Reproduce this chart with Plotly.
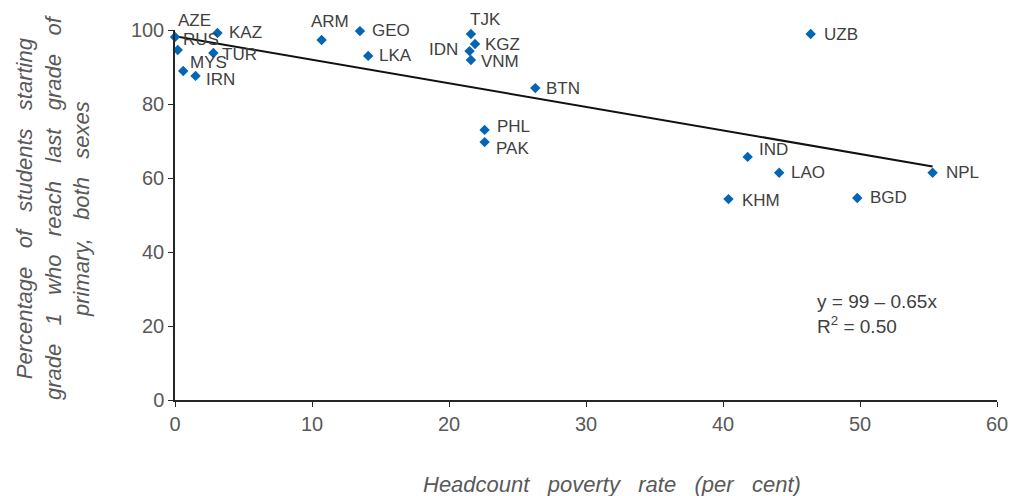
import plotly.graph_objects as go

countries = ["AZE", "RUS", "KAZ", "TUR", "MYS", "IRN", "ARM", "GEO", "LKA", "TJK", "KGZ",
             "IDN", "VNM", "BTN", "PHL", "PAK", "IND", "LAO", "NPL", "KHM", "BGD", "UZB"]
poverty = [0.0, 0.2, 3.1, 2.8, 0.6, 1.5, 10.7, 13.5, 14.1, 21.6, 21.9,
           21.5, 21.6, 26.3, 22.6, 22.6, 41.8, 44.1, 55.3, 40.4, 49.8, 46.4]
reach = [98.1, 94.6, 99.2, 93.8, 88.9, 87.6, 97.3, 99.7, 93.0, 98.9, 96.2,
         94.3, 91.9, 84.3, 73.0, 69.7, 65.7, 61.4, 61.4, 54.3, 54.6, 98.9]

# label placement (style): anchor, x shift, y shift in px
lab_anchor = ["left", "left", "left", "left", "left", "left", "center", "left", "left", "left", "left",
              "right", "left", "left", "left", "left", "left", "left", "left", "left", "left", "left"]
lab_dx = [1, 3, 10, 7, 5, 8, 8, 10, 9, -3, 8, -10, 8, 9, 10, 9, 9, 10, 11, 12, 11, 11]
lab_dy = [17, 10, 0, -2, 9, -4, 18, 1, 0, 15, 0, 2, -2, 0, 3, -6, 7, 0, 0, -1, 0, 0]

# trend line (shown as y = 99 - 0.65x)
trend_intercept = 98.3
trend_slope = -0.636
eq_text = "y = 99 \u2013 0.65x<br>R<sup>2</sup> = 0.50"

x_ticks = [0, 10, 20, 30, 40, 50, 60]
y_ticks = [0, 20, 40, 60, 80, 100]

x_title = "Headcount poverty rate (per cent)"
y_title_lines = ["Percentage of students starting", "grade 1 who reach last grade of", "primary, both sexes"]

grey = "#595959"
dark = "#404040"
blue = "#0565B5"
font_family = "Liberation Sans, Arial"
wide = "\u00a0\u00a0\u00a0"

fig = go.Figure()

x_end = max(poverty)
fig.add_trace(go.Scatter(
    x=[0, x_end],
    y=[trend_intercept, trend_intercept + trend_slope * x_end],
    mode="lines", line=dict(color="#111111", width=2), hoverinfo="skip", showlegend=False))

fig.add_trace(go.Scatter(
    x=poverty, y=reach, mode="markers", text=countries,
    marker=dict(symbol="diamond", size=8, color=blue),
    showlegend=False, cliponaxis=False))

for c, px, py, a, dx, dy in zip(countries, poverty, reach, lab_anchor, lab_dx, lab_dy):
    fig.add_annotation(x=px, y=py, text=c, showarrow=False, xanchor=a, yanchor="middle",
                       xshift=dx, yshift=dy, font=dict(family=font_family, size=17, color=dark))

fig.add_annotation(x=46.7, y=23.3, xref="x", yref="y", text=eq_text, showarrow=False,
                   xanchor="left", yanchor="middle", align="left",
                   font=dict(family=font_family, size=19, color=dark))

fig.add_annotation(x=0, y=0.5, xref="paper", yref="paper", xshift=-122, yshift=8, textangle=-90,
                   text="<i>" + "<br>".join(l.replace(" ", wide) for l in y_title_lines) + "</i>",
                   showarrow=False, xanchor="center", yanchor="middle", align="center",
                   font=dict(family=font_family, size=22, color=grey))

fig.add_annotation(x=0, y=0, xref="paper", yref="paper", xshift=437, yshift=-70,
                   text="<i>" + x_title.replace(" ", wide) + "</i>",
                   showarrow=False, xanchor="center", yanchor="top",
                   font=dict(family=font_family, size=22, color=grey))

fig.update_xaxes(range=[0, 60], tickvals=x_ticks, showgrid=False, zeroline=False,
                 showline=True, linecolor="#262626", linewidth=1.5,
                 ticks="outside", ticklen=5, tickcolor="#262626",
                 tickfont=dict(family=font_family, size=20, color=grey))
fig.update_yaxes(range=[0, 100], tickvals=y_ticks, showgrid=False, zeroline=False,
                 showline=True, linecolor="#262626", linewidth=1.5,
                 ticks="outside", ticklen=5, tickcolor="#262626",
                 tickfont=dict(family=font_family, size=20, color=grey))

fig.update_layout(width=1015, height=496, autosize=False,
                  margin=dict(l=175, r=18, t=30, b=96, autoexpand=False),
                  plot_bgcolor="white", paper_bgcolor="white")

fig.write_html("out.html",
               config={"displayModeBar": False, "responsive": False},
               post_script="document.documentElement.style.overflow='hidden';"
                           "document.body.style.margin='0';document.body.style.overflow='hidden';")
